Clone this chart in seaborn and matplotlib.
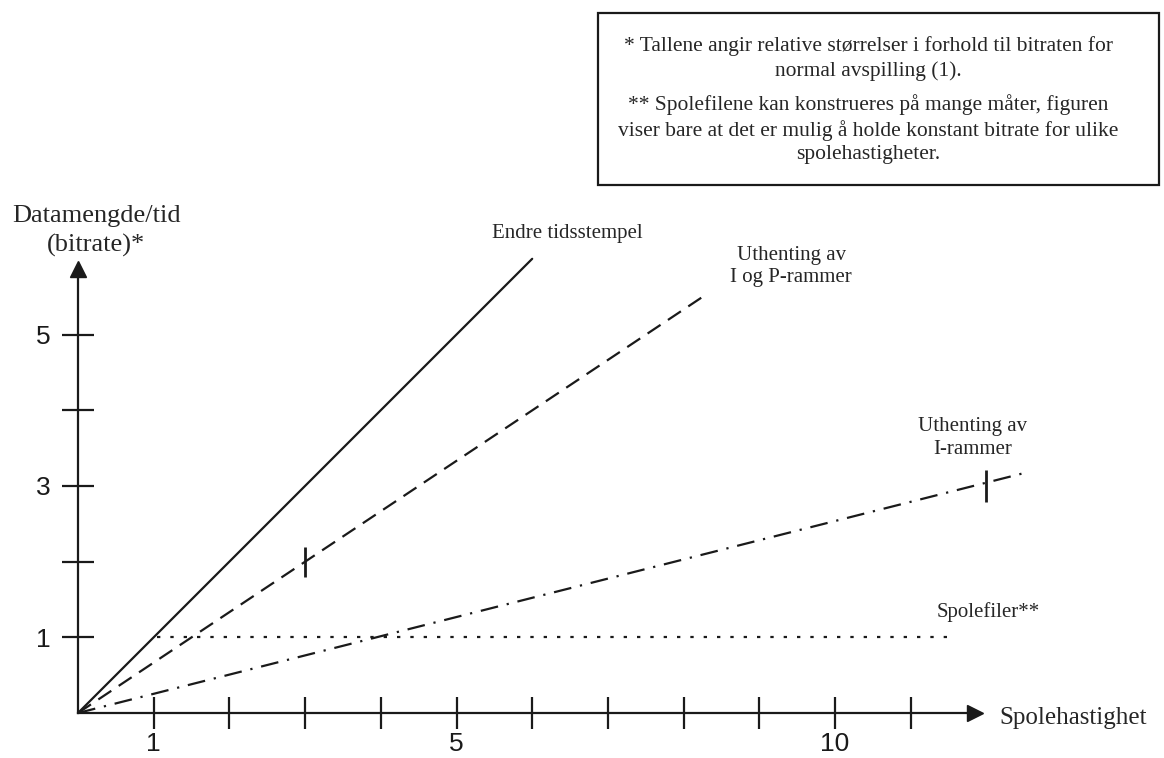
import seaborn as sns
import matplotlib.pyplot as plt
from matplotlib.patches import Rectangle

# playback speed (x) vs relative bitrate (y), one pair of lists per method
endre_speed = [0, 6.0]
endre_rate = [0, 6.0]
ip_speed = [0, 8.3]
ip_rate = [0, 5.53]
i_speed = [0, 12.5]
i_rate = [0, 3.17]
spole_speed = [1.05, 11.5]
spole_rate = [1, 1]

# marked points on the lines
ip_mark = (3, 2)
i_mark = (12, 3)

x_ticks = [1, 2, 3, 4, 5, 6, 7, 8, 9, 10, 11]
x_ticklabels = ['1', '', '', '', '5', '', '', '', '', '10', '']
y_ticks = [1, 2, 3, 4, 5]
y_ticklabels = ['1', '', '3', '', '5']

note_1 = '* Tallene angir relative størrelser i forhold til bitraten for\nnormal avspilling (1).'
note_2 = ('** Spolefilene kan konstrueres på mange måter, figuren\n'
          'viser bare at det er mulig å holde konstant bitrate for ulike\n'
          'spolehastigheter.')

sns.set_theme(style='white')
plt.rcParams['font.family'] = ['Liberation Serif', 'DejaVu Serif']

fig = plt.figure(figsize=(11.64, 7.58), dpi=100, facecolor='w')
ax = fig.add_axes([0, 0, 1, 1])
ax.set_facecolor('w')

unit = 75.7
ax.set_xlim(-78 / unit, (1164 - 78) / unit)
ax.set_ylim(-(758 - 713) / unit, 713 / unit)

lw = 1.6
sns.lineplot(x=endre_speed, y=endre_rate, ax=ax, color='k', lw=lw)
sns.lineplot(x=ip_speed, y=ip_rate, ax=ax, color='k', lw=lw)
ax.lines[-1].set_dashes([7, 4])
sns.lineplot(x=i_speed, y=i_rate, ax=ax, color='k', lw=lw)
ax.lines[-1].set_dashes([8, 4, 1, 4])
sns.lineplot(x=spole_speed, y=spole_rate, ax=ax, color='k', lw=lw)
ax.lines[-1].set_dashes([1.5, 4.5])

ax.plot(*ip_mark, marker='|', ms=22, mew=2, color='k')
ax.plot(*i_mark, marker='|', ms=23, mew=2, color='k')

# axes through the origin with arrow heads
for side in ['top', 'right']:
    ax.spines[side].set_visible(False)
ax.spines['left'].set_position(('data', 0))
ax.spines['bottom'].set_position(('data', 0))
ax.spines['left'].set_bounds(0, 5.8)
ax.spines['bottom'].set_bounds(0, 11.8)
for side in ['left', 'bottom']:
    ax.spines[side].set_color('k')
    ax.spines[side].set_linewidth(1.6)
ax.plot(0, 5.865, marker='^', ms=12, color='k', clip_on=False)
ax.plot(11.85, 0, marker='>', ms=12, color='k', clip_on=False)

ax.set_xticks(x_ticks)
ax.set_xticklabels(x_ticklabels)
ax.set_yticks(y_ticks)
ax.set_yticklabels(y_ticklabels)
ax.tick_params(direction='inout', length=23, width=1.6, color='k',
               labelsize=19, labelcolor='k')
ax.tick_params(axis='x', pad=2.5, bottom=True)
ax.tick_params(axis='y', pad=8, left=True)
for lab in ax.get_xticklabels() + ax.get_yticklabels():
    lab.set_family(['Liberation Sans', 'DejaVu Sans'])

ax.text(6.47, 6.34, 'Endre tidsstempel', ha='center', va='center', fontsize=15)
ax.text(9.42, 5.90, 'Uthenting av\nI og P-rammer', ha='center', va='center',
        fontsize=15, linespacing=1.22)
ax.text(11.82, 3.63, 'Uthenting av\nI-rammer', ha='center', va='center',
        fontsize=15, linespacing=1.25)
ax.text(12.02, 1.33, 'Spolefiler**', ha='center', va='center', fontsize=15)
ax.text(12.17, -0.07, 'Spolehastighet', ha='left', va='center', fontsize=18)
ax.text(0.24, 6.37, 'Datamengde/tid\n(bitrate)*', ha='center', va='center',
        fontsize=19, linespacing=1.42)

# note box in the upper right corner
fig.patches.append(Rectangle((598 / 1164, 1 - 185 / 758), 561 / 1164, 172 / 758,
                             transform=fig.transFigure, fill=False,
                             edgecolor='k', lw=1.6))
fig.text(868 / 1164, 1 - 58.5 / 758, note_1, ha='center', va='center',
         fontsize=15.5, linespacing=1.3)
fig.text(868 / 1164, 1 - 129 / 758, note_2, ha='center', va='center',
         fontsize=15.5, linespacing=1.3)

fig.savefig('out.png', dpi=100, facecolor='w')
plt.close(fig)
